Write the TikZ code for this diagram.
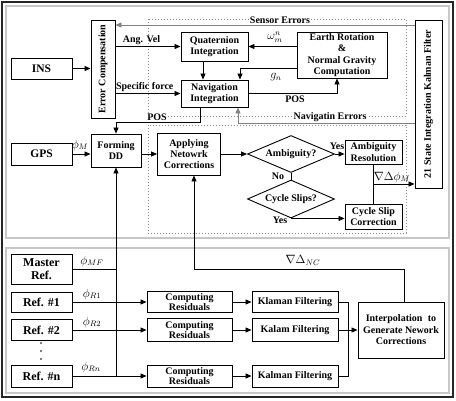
\documentclass[tikz,border=0pt]{standalone}
\usepackage{fontspec}
\setmainfont{Liberation Serif}
\usepackage{graphicx}
\usetikzlibrary{arrows.meta,shapes.geometric}
\begin{document}
\begin{tikzpicture}[x=1pt,y=-1pt,
  box/.style={draw, line width=0.9pt, fill=white, inner sep=1pt, align=center, font=\fontsize{10}{11.5}\selectfont\bfseries},
  bigbox/.style={box, font=\fontsize{11.5}{13}\selectfont\bfseries},
  refbox/.style={box, font=\fontsize{12}{13}\selectfont\bfseries},
  dia/.style={draw, diamond, line width=0.9pt, fill=white, inner sep=0pt, shape aspect=2.3, font=\fontsize{10}{11.5}\selectfont\bfseries},
  arr/.style={line width=0.85pt, -{Triangle[length=6pt,width=5pt]}},
  ln/.style={line width=0.85pt},
  garr/.style={line width=0.85pt, color=black!50, -{Triangle[length=6pt,width=5pt]}},
  lbl/.style={font=\fontsize{10}{12}\selectfont\bfseries, inner sep=1pt},
  mlbl/.style={font=\fontsize{12}{13}\selectfont, inner sep=0pt},
  dotbox/.style={draw=black!45, line width=0.8pt, dash pattern=on 0.8pt off 2.2pt},
  panel/.style={draw=black!22, line width=1.2pt},
]
\useasboundingbox (0,0) rectangle (456,400);
% frames
\draw[line width=1.3pt, draw=black!85] (2,2) rectangle (453,397);
\draw[panel] (6,6) rectangle (449,238);
\draw[panel] (6,248) rectangle (449,393);
% dotted regions
\draw[dotbox] (148,19) rectangle (406,116);
\draw[dotbox] (148,125) rectangle (406,233);

% nodes (top)
\node[bigbox, minimum width=61, minimum height=21] (INS) at (41.5,68.5) {INS};
\node[box, minimum width=24, minimum height=98] (EC) at (103,69) {\rotatebox{90}{Error Compensation}};
\node[box, minimum width=67, minimum height=29] (Quat) at (214.5,46.5) {Quaternion\\Integration};
\node[box, minimum width=67, minimum height=27] (Nav) at (214.5,93.5) {Navigation\\Integration};
\node[box, minimum width=90, minimum height=46] (Earth) at (342,55) {Earth Rotation\\\&\\Normal Gravity\\Computation};
\node[box, minimum width=27, minimum height=168] (KF) at (428.5,104) {\rotatebox{90}{21 State Integration Kalman Filter}};
\node[bigbox, minimum width=61, minimum height=22] (GPS) at (41.5,154) {GPS};
\node[box, minimum width=50, minimum height=33] (DD) at (116,150.5) {Forming\\DD};
\node[box, minimum width=63, minimum height=42, font=\fontsize{10}{11}\selectfont\bfseries] (App) at (189,154) {Applying\\Netowrk\\Corrections};
\node[dia, minimum width=87, minimum height=37] (Amb) at (291,154) {Ambiguity?};
\node[dia, minimum width=87, minimum height=38] (Cyc) at (291,199) {Cycle Slips?};
\node[box, minimum width=57, minimum height=24] (AR) at (373.5,152) {Ambiguity\\Resolution};
\node[box, minimum width=57, minimum height=25] (CSC) at (373.5,216.5) {Cycle Slip\\Correction};

% nodes (bottom)
\node[refbox, minimum width=61, minimum height=30] (MR) at (41.5,269) {Master\\Ref.};
\node[refbox, minimum width=61, minimum height=20] (R1) at (41.5,302) {Ref. \#1};
\node[refbox, minimum width=61, minimum height=21] (R2) at (41.5,330) {Ref. \#2};
\node[refbox, minimum width=61, minimum height=22] (Rn) at (41.5,376) {Ref. \#n};
\node[box, minimum width=85, minimum height=21, font=\fontsize{10}{10.5}\selectfont\bfseries] (CR1) at (189.5,302) {Computing\\Residuals};
\node[box, minimum width=85, minimum height=23, font=\fontsize{10}{10.5}\selectfont\bfseries] (CR2) at (189.5,330) {Computing\\Residuals};
\node[box, minimum width=85, minimum height=22, font=\fontsize{10}{10.5}\selectfont\bfseries] (CR3) at (189.5,376) {Computing\\Residuals};
\node[box, minimum width=86, minimum height=21] (K1) at (295,302) {Klaman Filtering};
\node[box, minimum width=86, minimum height=23] (K2) at (295,330) {Kalam Filtering};
\node[box, minimum width=86, minimum height=22] (K3) at (295,376) {Kalman Filtering};
\node[box, minimum width=86, minimum height=56] (IP) at (401,330) {Interpolation\hspace{3pt} to\\Generate Nework\\Corrections};
\foreach \yy in {343,351,359} \fill (41,\yy) circle (0.9);

% coordinates
\coordinate (se) at (0,25);
\coordinate (ne) at (0,123);
\coordinate (posb) at (116,122);
\coordinate (jn) at (373.5,184);
\coordinate (mx) at (348,0);
\coordinate (nc1) at (404,269);
\coordinate (nc2) at (194,269);

% gray feedback
\draw[garr] (KF.west |- se) -- (EC.east |- se);
\node[lbl, fill=white] at (280,20) {Sensor Errors};
\draw[garr] (KF.west |- ne) -| ([xshift=23.5pt]Nav.south);
\node[lbl, fill=white] at (330,117) {Navigatin Errors};

% INS part
\draw[arr] (INS.east) -- (INS.east -| EC.west);
\draw[arr] (EC.east |- Quat.west) -- node[lbl, above, pos=0.4] {Ang. Vel} (Quat.west);
\draw[arr] (EC.east |- Nav.west) -- node[lbl, above, pos=0.45] {Specific force} (Nav.west);
\draw[arr] ([xshift=-11.5pt]Quat.south) -- ([xshift=-11.5pt]Nav.north);
\draw[arr] (Earth.west |- Quat.east) -- (Quat.east);
\node[mlbl] at (275,37) {$\omega_{m}^{n}$};
\draw[arr] ([yshift=-13pt]Earth.west) -| ([xshift=25.5pt]Nav.north);
\node[mlbl] at (276,77) {$g_n$};
\draw[arr] (Nav.east) -| ([xshift=-5pt]Earth.south);
\node[lbl] at (295,99) {POS};
\draw[arr] ([xshift=-14.5pt]Nav.south) |- (posb) -- (DD.north);
\node[lbl, fill=white] at (157,117) {POS};

% GPS part
\draw[arr] (GPS.east) -- (GPS.east -| DD.west);
\node[mlbl] at (80,145) {$\phi_M$};
\draw[arr] (DD.east |- App.west) -- (App.west);
\draw[arr] (App.east) -- (Amb.west);
\draw[arr] (Amb.east) -- (Amb.east -| AR.west);
\node[lbl] at (337,146) {Yes};
\draw[ln] (Amb.south) -- (Cyc.north);
\node[lbl] at (278,176) {No};
\draw[arr] (Cyc.south) -- (Cyc.south -| CSC.west);
\node[lbl] at (280,220) {Yes};
\draw[ln] (AR.south) -- (CSC.north);
\draw[arr] (jn) -- (KF.west |- jn);
\node[mlbl] at (392,177) {$\nabla\Delta\phi_M$};

% reference network
\draw[ln] (MR.east) -- (MR.east -| DD.south);
\node[mlbl] at (92,261) {$\phi_{MF}$};
\draw[arr] (Rn.east -| DD.south) -- (DD.south);
\draw[arr] (R1.east) -- (CR1.west);
\node[mlbl] at (92,294) {$\phi_{R1}$};
\draw[arr] (R2.east) -- (CR2.west);
\node[mlbl] at (92,322) {$\phi_{R2}$};
\draw[arr] (Rn.east) -- (CR3.west);
\node[mlbl] at (91,367) {$\phi_{Rn}$};
\draw[arr] (CR1.east) -- (K1.west);
\draw[arr] (CR2.east) -- (K2.west);
\draw[arr] (CR3.east) -- (K3.west);
\draw[ln] (K1.east) -| (mx |- IP.west);
\draw[ln] (K3.east) -| (mx |- IP.west);
\draw[arr] (K2.east) -- (IP.west);
\draw[arr] ([xshift=3pt]IP.north) |- (nc1) -- (nc2) -- (nc2 |- App.south);
\node[mlbl] at (303,260) {$\nabla\Delta_{NC}$};
\end{tikzpicture}
\end{document}
